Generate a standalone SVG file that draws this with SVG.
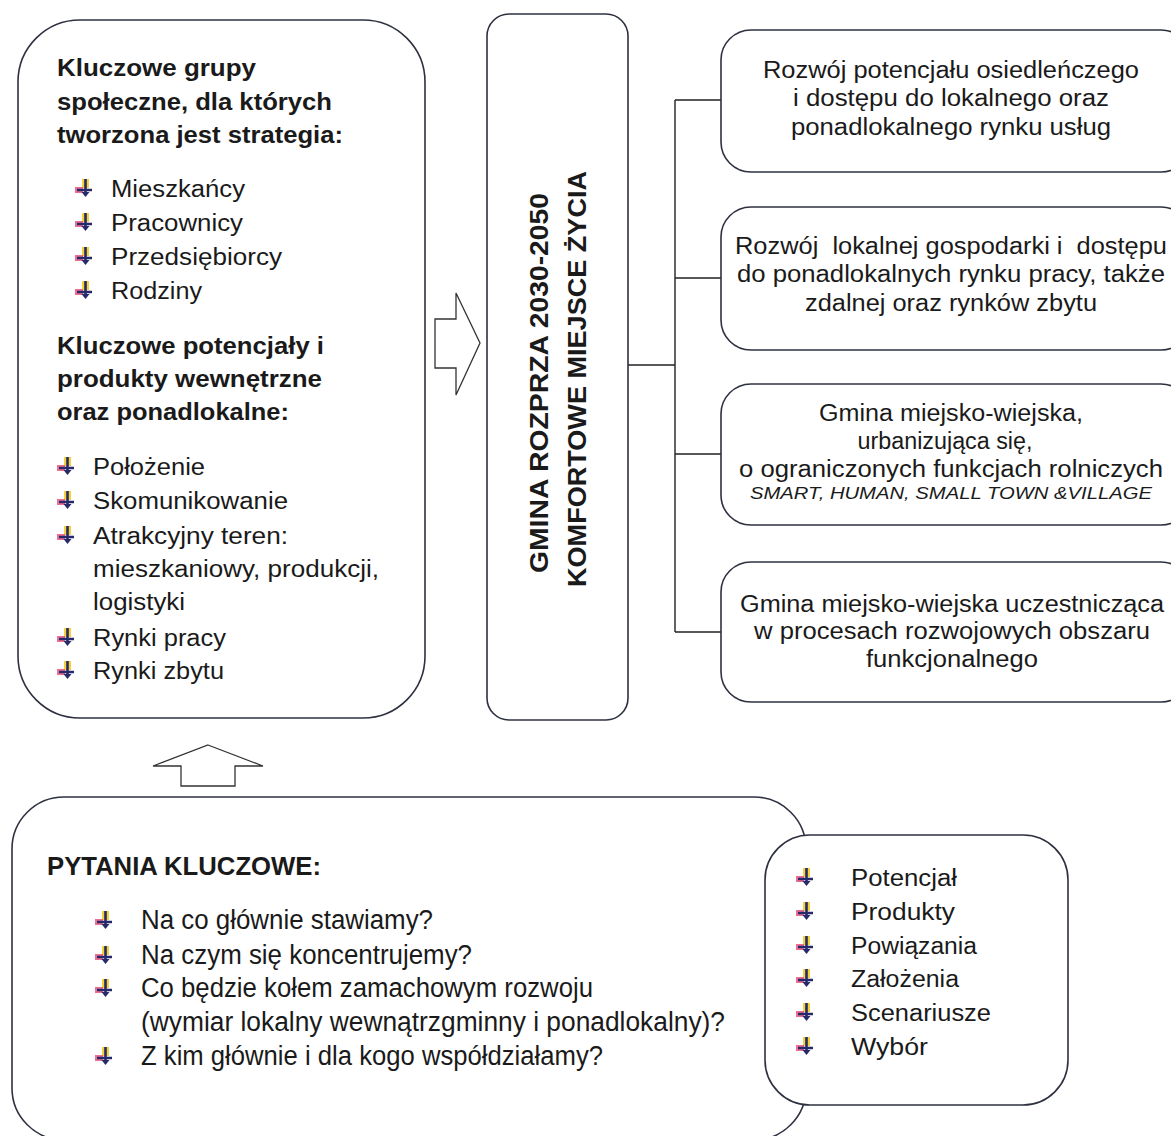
<svg xmlns="http://www.w3.org/2000/svg" xmlns:xlink="http://www.w3.org/1999/xlink" width="1171" height="1136" viewBox="0 0 1171 1136">
<style>
.box{fill:#fff;stroke:#2e3140;stroke-width:1.6}
.arr{fill:#fff;stroke:#333;stroke-width:1.3}
.con{fill:none;stroke:#222;stroke-width:1.4}
text{font-family:"Liberation Sans",Arial,sans-serif;fill:#1a1a1a}
.b{font-weight:bold;font-size:23.5px}
.r{font-size:23.5px}
.n{font-size:27px}
.nb{font-size:26px;font-weight:bold}
.c{text-anchor:middle;font-size:23px}
.it{text-anchor:middle;font-size:17px;font-style:italic}
.v{text-anchor:middle;font-size:26px;font-weight:bold}
</style>
<defs>
<g id="bul">
<rect x="-1" y="-9" width="7" height="9" fill="#f3d23a"/>
<rect x="-8" y="-1" width="8" height="6" fill="#e9557e" opacity="0.85"/>
<path d="M2.5 -9 V6 M-6 2 H9" stroke="#262a6a" stroke-width="2.6" fill="none"/>
<path d="M-1.5 4 L2.5 9 L6.5 4Z" fill="#262a6a"/>
</g>
</defs>

<g id="connectors">
<path class="con" d="M628 365 H675 M675 100 V632 M675 100 H721 M675 278 H721 M675 454 H721 M675 632 H721"/>
<polygon class="arr" points="435,319 456,319 456,293 480,343 456,395 456,368 435,368"/>
<polygon class="arr" points="208,745 263,766 235,766 235,786 181,786 181,766 153,766"/>
</g>

<g id="left-box">
<rect class="box" x="18" y="20" width="407" height="698" rx="62" ry="62"/>
<text class="b" x="57" y="76" textLength="199" lengthAdjust="spacingAndGlyphs">Kluczowe grupy</text>
<text class="b" x="57" y="110" textLength="275" lengthAdjust="spacingAndGlyphs">społeczne, dla których</text>
<text class="b" x="57" y="143" textLength="286" lengthAdjust="spacingAndGlyphs">tworzona jest strategia:</text>
<use xlink:href="#bul" x="83" y="188"/>
<use xlink:href="#bul" x="83" y="222"/>
<use xlink:href="#bul" x="83" y="256"/>
<use xlink:href="#bul" x="83" y="290"/>
<text class="r" x="111" y="197" textLength="134" lengthAdjust="spacingAndGlyphs">Mieszkańcy</text>
<text class="r" x="111" y="231" textLength="132" lengthAdjust="spacingAndGlyphs">Pracownicy</text>
<text class="r" x="111" y="265" textLength="171" lengthAdjust="spacingAndGlyphs">Przedsiębiorcy</text>
<text class="r" x="111" y="299" textLength="91" lengthAdjust="spacingAndGlyphs">Rodziny</text>
<text class="b" x="57" y="354" textLength="267" lengthAdjust="spacingAndGlyphs">Kluczowe potencjały i</text>
<text class="b" x="57" y="387" textLength="265" lengthAdjust="spacingAndGlyphs">produkty wewnętrzne</text>
<text class="b" x="57" y="420" textLength="232" lengthAdjust="spacingAndGlyphs">oraz ponadlokalne:</text>
<use xlink:href="#bul" x="65" y="466"/>
<use xlink:href="#bul" x="65" y="500"/>
<use xlink:href="#bul" x="65" y="535"/>
<use xlink:href="#bul" x="65" y="637"/>
<use xlink:href="#bul" x="65" y="670"/>
<text class="r" x="93" y="475" textLength="112" lengthAdjust="spacingAndGlyphs">Położenie</text>
<text class="r" x="93" y="509" textLength="195" lengthAdjust="spacingAndGlyphs">Skomunikowanie</text>
<text class="r" x="93" y="544" textLength="195" lengthAdjust="spacingAndGlyphs">Atrakcyjny teren:</text>
<text class="r" x="93" y="577" textLength="286" lengthAdjust="spacingAndGlyphs">mieszkaniowy, produkcji,</text>
<text class="r" x="93" y="610" textLength="92" lengthAdjust="spacingAndGlyphs">logistyki</text>
<text class="r" x="93" y="646" textLength="133" lengthAdjust="spacingAndGlyphs">Rynki pracy</text>
<text class="r" x="93" y="679" textLength="131" lengthAdjust="spacingAndGlyphs">Rynki zbytu</text>
</g>

<g id="center-box">
<rect class="box" x="487" y="14" width="141" height="706" rx="22" ry="22"/>
<text class="v" transform="translate(548 383) rotate(-90)" x="0" y="0" textLength="380" lengthAdjust="spacingAndGlyphs">GMINA ROZPRZA 2030-2050</text>
<text class="v" transform="translate(586 379) rotate(-90)" x="0" y="0" textLength="416" lengthAdjust="spacingAndGlyphs">KOMFORTOWE MIEJSCE ŻYCIA</text>
</g>

<g id="box1">
<rect class="box" x="721" y="30" width="470" height="142" rx="30" ry="30"/>
<text class="c" x="951" y="78" textLength="376" lengthAdjust="spacingAndGlyphs">Rozwój potencjału osiedleńczego</text>
<text class="c" x="951" y="106" textLength="316" lengthAdjust="spacingAndGlyphs">i dostępu do lokalnego oraz</text>
<text class="c" x="951" y="135" textLength="320" lengthAdjust="spacingAndGlyphs">ponadlokalnego rynku usług</text>
</g>

<g id="box2">
<rect class="box" x="721" y="207" width="470" height="143" rx="30" ry="30"/>
<text class="c" x="951" y="254" xml:space="preserve" textLength="432" lengthAdjust="spacingAndGlyphs">Rozwój  lokalnej gospodarki i  dostępu</text>
<text class="c" x="951" y="282" textLength="428" lengthAdjust="spacingAndGlyphs">do ponadlokalnych rynku pracy, także</text>
<text class="c" x="951" y="311" textLength="292" lengthAdjust="spacingAndGlyphs">zdalnej oraz rynków zbytu</text>
</g>

<g id="box3">
<rect class="box" x="721" y="384" width="470" height="141" rx="30" ry="30"/>
<text class="c" x="951" y="421" textLength="264" lengthAdjust="spacingAndGlyphs">Gmina miejsko-wiejska,</text>
<text class="c" x="945" y="449" textLength="175" lengthAdjust="spacingAndGlyphs">urbanizująca się,</text>
<text class="c" x="951" y="477" textLength="424" lengthAdjust="spacingAndGlyphs">o ograniczonych funkcjach rolniczych</text>
<text class="it" x="951" y="499" textLength="402" lengthAdjust="spacingAndGlyphs">SMART, HUMAN, SMALL TOWN &amp;VILLAGE</text>
</g>

<g id="box4">
<rect class="box" x="721" y="562" width="470" height="140" rx="30" ry="30"/>
<text class="c" x="952" y="612" textLength="424" lengthAdjust="spacingAndGlyphs">Gmina miejsko-wiejska uczestnicząca</text>
<text class="c" x="952" y="639" textLength="396" lengthAdjust="spacingAndGlyphs">w procesach rozwojowych obszaru</text>
<text class="c" x="952" y="667" textLength="172" lengthAdjust="spacingAndGlyphs">funkcjonalnego</text>
</g>

<g id="questions-box">
<rect class="box" x="12" y="797" width="794" height="343" rx="52" ry="52"/>
<text class="nb" x="47" y="875" textLength="274" lengthAdjust="spacingAndGlyphs">PYTANIA KLUCZOWE:</text>
<use xlink:href="#bul" x="103" y="920"/>
<use xlink:href="#bul" x="103" y="955"/>
<use xlink:href="#bul" x="103" y="988"/>
<use xlink:href="#bul" x="103" y="1056"/>
<text class="n" x="141" y="929" textLength="292" lengthAdjust="spacingAndGlyphs">Na co głównie stawiamy?</text>
<text class="n" x="141" y="964" textLength="331" lengthAdjust="spacingAndGlyphs">Na czym się koncentrujemy?</text>
<text class="n" x="141" y="997" textLength="452" lengthAdjust="spacingAndGlyphs">Co będzie kołem zamachowym rozwoju</text>
<text class="n" x="141" y="1031" textLength="584" lengthAdjust="spacingAndGlyphs">(wymiar lokalny wewnątrzgminny i ponadlokalny)?</text>
<text class="n" x="141" y="1065" textLength="462" lengthAdjust="spacingAndGlyphs">Z kim głównie i dla kogo współdziałamy?</text>
</g>

<g id="steps-box">
<rect class="box" x="765" y="835" width="303" height="270" rx="45" ry="45"/>
<use xlink:href="#bul" x="804" y="877"/>
<use xlink:href="#bul" x="804" y="911"/>
<use xlink:href="#bul" x="804" y="945"/>
<use xlink:href="#bul" x="804" y="978"/>
<use xlink:href="#bul" x="804" y="1012"/>
<use xlink:href="#bul" x="804" y="1046"/>
<text class="r" x="851" y="886" textLength="106" lengthAdjust="spacingAndGlyphs">Potencjał</text>
<text class="r" x="851" y="920" textLength="104" lengthAdjust="spacingAndGlyphs">Produkty</text>
<text class="r" x="851" y="954" textLength="126" lengthAdjust="spacingAndGlyphs">Powiązania</text>
<text class="r" x="851" y="987" textLength="108" lengthAdjust="spacingAndGlyphs">Założenia</text>
<text class="r" x="851" y="1021" textLength="140" lengthAdjust="spacingAndGlyphs">Scenariusze</text>
<text class="r" x="851" y="1055" textLength="77" lengthAdjust="spacingAndGlyphs">Wybór</text>
</g>
</svg>
